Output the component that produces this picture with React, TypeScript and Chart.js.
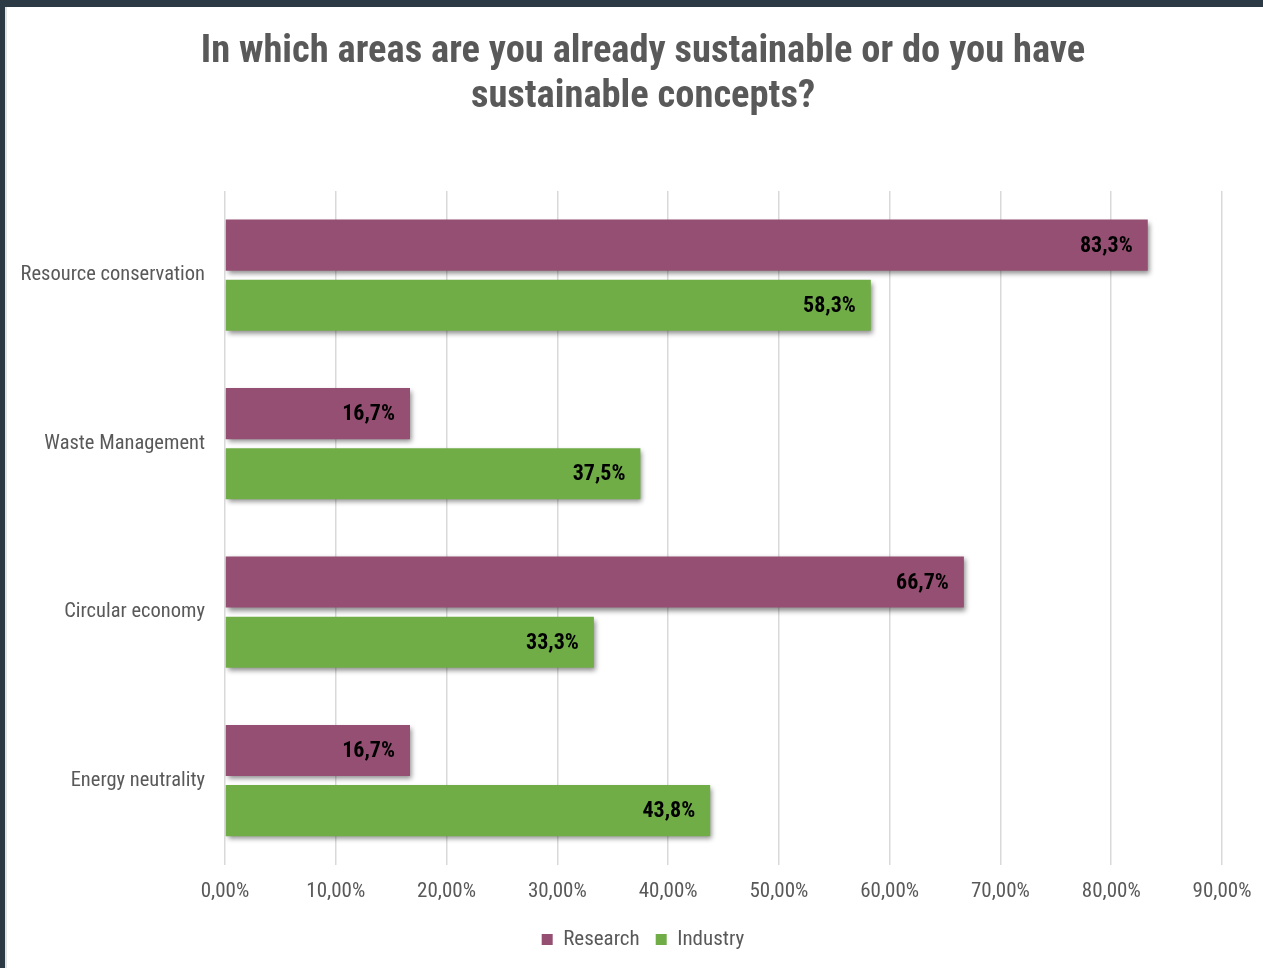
import React, { useEffect, useRef } from "react";
import { Chart, registerables } from "chart.js";

Chart.register(...registerables);

const categories = ["Resource conservation", "Waste Management", "Circular economy", "Energy neutrality"];
const researchValues = [83.3, 16.7, 66.7, 16.7];
const industryValues = [58.3, 37.5, 33.3, 43.8];
const seriesNames = ["Research", "Industry"];
const titleLines = ["In which areas are you already sustainable or do you have", "sustainable concepts?"];
const xMax = 90;
const xStep = 10;

const FONT = "'Roboto Condensed', 'Liberation Sans Narrow', 'Arial Narrow', Roboto, sans-serif";
const RESEARCH = "#954F72";
const INDUSTRY = "#70AD47";
const PAD_L = 64;
const PAD_R = 41;

const fmtTick = (v: number) => v.toFixed(2).replace(".", ",") + "%";
const fmtLabel = (v: number) => v.toFixed(1).replace(".", ",") + "%";

const shadowPlugin = {
  id: "barShadow",
  beforeDatasetsDraw(chart: any) {
    const ctx = chart.ctx;
    ctx.save();
    ctx.shadowColor = "rgba(0,0,0,0.45)";
    ctx.shadowBlur = 5;
    ctx.shadowOffsetX = 2;
    ctx.shadowOffsetY = 3;
  },
  afterDatasetsDraw(chart: any) {
    chart.ctx.restore();
  },
};

const labelAreaPlugin = {
  id: "labelArea",
  afterLayout(chart: any) {
    // let the category labels use the space left of the scale box (avoid clipping)
    chart.scales.y.left = 0;
  },
};

const labelPlugin = {
  id: "valueLabels",
  afterDraw(chart: any) {
    const ctx = chart.ctx;
    ctx.save();
    ctx.font = `bold 22px ${FONT}`;
    ctx.fillStyle = "#000";
    ctx.textAlign = "right";
    ctx.textBaseline = "middle";
    chart.data.datasets.forEach((ds: any, i: number) => {
      const meta = chart.getDatasetMeta(i);
      meta.data.forEach((bar: any, j: number) => {
        ctx.fillText(fmtLabel(ds.data[j]), bar.x - 15, bar.y + 1);
      });
    });
    ctx.restore();
  },
};

export default function App() {
  const ref = useRef<HTMLCanvasElement>(null);
  useEffect(() => {
    document.body.style.margin = "0";
    const chart = new Chart(ref.current!, {
      type: "bar",
      data: {
        labels: categories,
        datasets: [
          { label: seriesNames[0], data: researchValues, backgroundColor: RESEARCH, categoryPercentage: 0.714, barPercentage: 0.85 },
          { label: seriesNames[1], data: industryValues, backgroundColor: INDUSTRY, categoryPercentage: 0.714, barPercentage: 0.85 },
        ],
      },
      options: {
        indexAxis: "y",
        animation: false,
        responsive: false,
        maintainAspectRatio: false,
        layout: { padding: { left: PAD_L, right: PAD_R, top: 24, bottom: 8 } },
        scales: {
          x: {
            min: 0,
            max: xMax,
            ticks: {
              stepSize: xStep,
              callback: (v: any) => fmtTick(Number(v)),
              color: "#595959",
              font: { family: FONT, size: 21 },
              padding: 14,
            },
            grid: { color: "#d9d9d9", lineWidth: 1.5, drawTicks: false },
            border: { display: false },
            afterFit: (scale: any) => {
              scale.height = scale.height - 5;
              scale.paddingRight = 0;
              scale.paddingLeft = 0;
            },
          },
          y: {
            ticks: { color: "#595959", font: { family: FONT, size: 20.5 }, padding: 20 },
            grid: { display: false, drawTicks: false },
            border: { display: false },
            afterFit: (scale: any) => {
              scale.width = 225 - PAD_L;
            },
          },
        },
        plugins: {
          title: {
            display: true,
            text: titleLines,
            color: "#595959",
            font: { family: FONT, size: 38.5, weight: "bold", lineHeight: 45 / 38.5 },
            padding: { top: 6, bottom: 71 },
          },
          legend: {
            position: "bottom",
            labels: {
              boxWidth: 11,
              boxHeight: 11,
              color: "#595959",
              font: { family: FONT, size: 21 },
              padding: 16,
            },
          },
          tooltip: { enabled: false },
        },
      },
      plugins: [shadowPlugin, labelAreaPlugin, labelPlugin],
    } as any);
    return () => chart.destroy();
  }, []);
  return (
    <div style={{ position: "relative", width: 1263, height: 968, background: "#fff", overflow: "hidden" }}>
      <div style={{ position: "absolute", left: 0, top: 0, width: 1263, height: 7, background: "#2b3a44" }} />
      <div style={{ position: "absolute", left: 0, top: 0, width: 5, height: 968, background: "#2b3a44" }} />
      <div style={{ position: "absolute", left: 5, top: 7, width: 2, height: 961, background: "#e4e4e4" }} />
      <canvas ref={ref} width={1263} height={968} style={{ position: "absolute", left: 0, top: 0 }} />
    </div>
  );
}
